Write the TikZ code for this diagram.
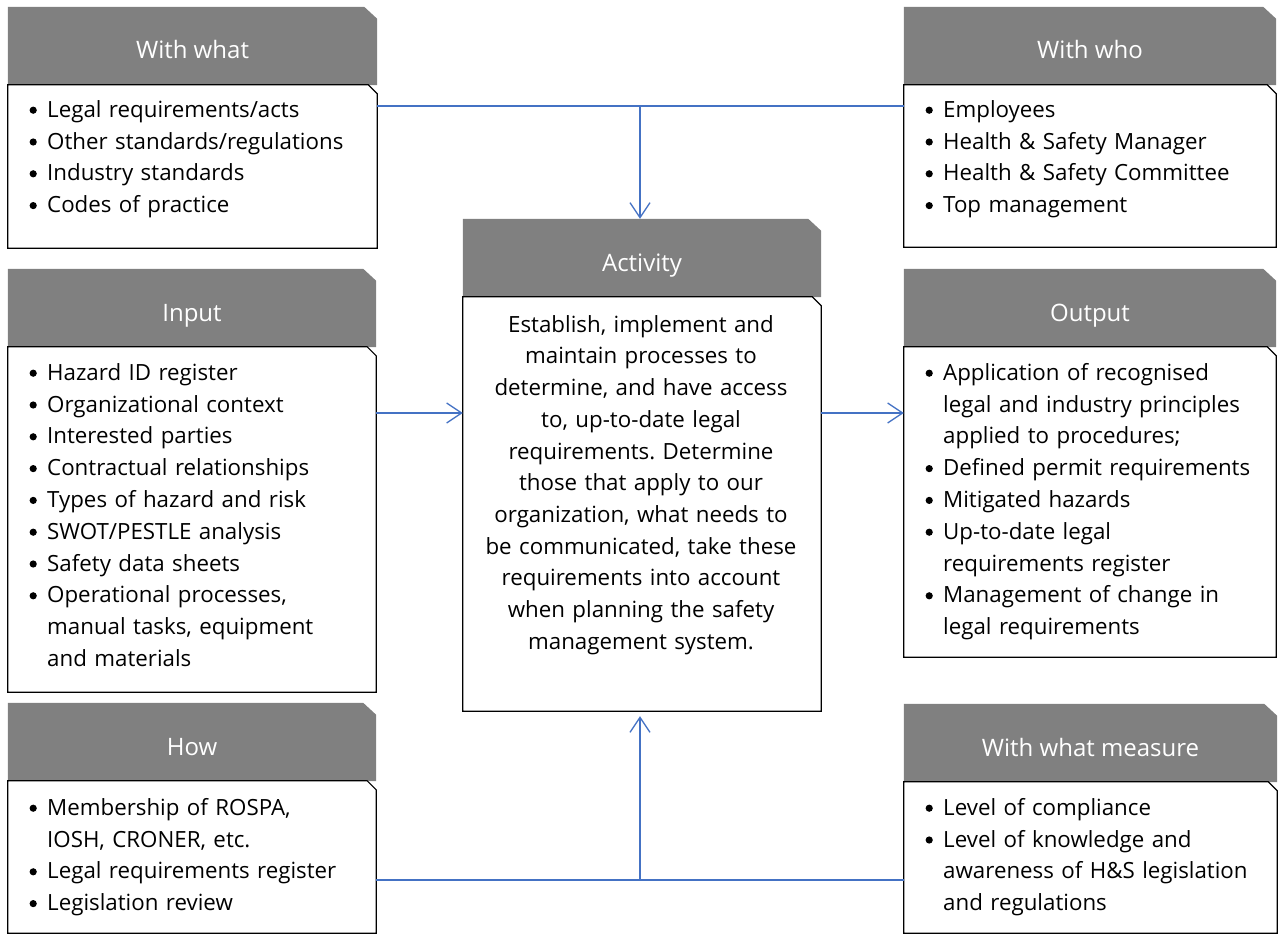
\documentclass[tikz,border=0pt]{standalone}
\usepackage{fontspec}
\setmainfont{Open Sans}
\frenchspacing
\usetikzlibrary{fit,arrows.meta,calc}
\definecolor{hdr}{RGB}{128,128,128}
\definecolor{conn}{RGB}{68,114,196}
\newcommand\bul{\makebox[18pt][l]{\tikz[baseline=0pt]{\fill[black] (4pt,7pt) circle[radius=3.6pt];\path (0pt,0pt);}}}
\newcommand\bitem[1]{\hangindent=18pt\hangafter=1\noindent\rule{0pt}{24pt}\bul#1\par}
\newcommand\brk{\hfill\break}
\newcommand\panel[6]{%
  \node[fit={(#2,#4) (#3,#5)}, inner sep=0pt] (#1h) {};
  \node[fit={(#2,#5) (#3,#6)}, inner sep=0pt] (#1b) {};
  \fill[hdr] (#1h.south west) -- (#1h.north west) -- ([xshift=-13pt]#1h.north east) -- ([yshift=-12pt]#1h.north east) -- (#1h.south east) -- cycle;
  \draw[bodyline] (#1b.south west) -- (#1b.north west) -- ([xshift=-9pt]#1b.north east) -- ([yshift=-9pt]#1b.north east) -- (#1b.south east) -- cycle;
}
\tikzset{
  bodyline/.style={draw=black, fill=white, line width=1.2pt, line join=miter},
  title/.style={text=white, font=\fontsize{24}{28}\selectfont, inner sep=0pt, text height=26pt, text depth=0pt},
  blist/.style={anchor=north west, inner sep=0pt, text width=345pt, align=left, font=\fontsize{22.3}{31.8}\selectfont},
  conn/.style={draw=conn, line width=1.3pt},
  tip/.style={-{Straight Barb[length=15pt,width=20pt,line width=1.3pt]}}
}
\begin{document}
\begin{tikzpicture}[x=1pt,y=-1pt]
\useasboundingbox (0,0) rectangle (1279,934);
% panels
\panel{ww}{8}{377}{7}{85}{248}
\panel{who}{904}{1276}{7}{85}{247}
\panel{in}{8}{376}{269}{347}{692}
\panel{out}{904}{1276}{269}{347}{657}
\panel{how}{8}{376}{703}{781}{933}
\panel{meas}{904}{1277}{704}{782}{933}
\panel{act}{463}{821}{219}{297}{711}
% titles
\node[title] (wwt) at (wwh.center) {With what};
\node[title] (whot) at (whoh.center) {With who};
\node[title] (int) at (inh.center) {Input};
\node[title] (outt) at (outh.center) {Output};
\node[title] (howt) at (howh.center) {How};
\node[title] (meast) at (meash.center) {With what measure};
\node[title] (actt) at (acth.center) {Activity};
% lists
\node[blist] (wwl) at (29,93) {%
\bitem{Legal requirements/acts}
\bitem{Other standards/regulations}
\bitem{Industry standards}
\bitem{Codes of practice}};
\node[blist] (whol) at (925,93) {%
\bitem{Employees}
\bitem{Health \& Safety Manager}
\bitem{Health \& Safety Committee}
\bitem{Top management}};
\node[blist] (inl) at (29,356) {%
\bitem{Hazard ID register}
\bitem{Organizational context}
\bitem{Interested parties}
\bitem{Contractual relationships}
\bitem{Types of hazard and risk}
\bitem{SWOT/PESTLE analysis}
\bitem{Safety data sheets}
\bitem{Operational processes,\brk manual tasks, equipment\brk and materials}};
\node[blist] (outl) at (925,356) {%
\bitem{Application of recognised\brk legal and industry principles\brk applied to procedures;}
\bitem{Defined permit requirements}
\bitem{Mitigated hazards}
\bitem{Up-to-date legal\brk requirements register}
\bitem{Management of change in\brk legal requirements}};
\node[blist] (howl) at (29,791) {%
\bitem{Membership of ROSPA,\brk IOSH, CRONER, etc.}
\bitem{Legal requirements register}
\bitem{Legislation review}};
\node[blist] (measl) at (925,791) {%
\bitem{Level of compliance}
\bitem{Level of knowledge and\brk awareness of H\&S legislation\brk and regulations}};
\node[anchor=north, inner sep=0pt, text width=356pt, align=center, font=\fontsize{22.3}{31.7}\selectfont] (actl) at (641,308) {%
\rule{0pt}{24pt}Establish, implement and\\
maintain processes to\\
determine, and have access\\
to, up-to-date legal\\
requirements. Determine\\
those that apply to our\\
organization, what needs to\\
be communicated, take these\\
requirements into account\\
when planning the safety\\
management system.};
% connectors
\coordinate (tj) at (640,106);
\coordinate (mj) at (640,413);
\coordinate (bj) at (640,880);
\draw[conn] (wwb.east |- tj) -- (whob.west |- tj);
\draw[conn,tip] (tj) -- (tj |- acth.north);
\draw[conn,tip] (inb.east |- mj) -- (actb.west |- mj);
\draw[conn,tip] (actb.east |- mj) -- (outb.west |- mj);
\draw[conn] (howb.east |- bj) -- (measb.west |- bj);
\draw[conn,tip,shorten >=5pt] (bj) -- (bj |- actb.south);
\end{tikzpicture}
\end{document}
